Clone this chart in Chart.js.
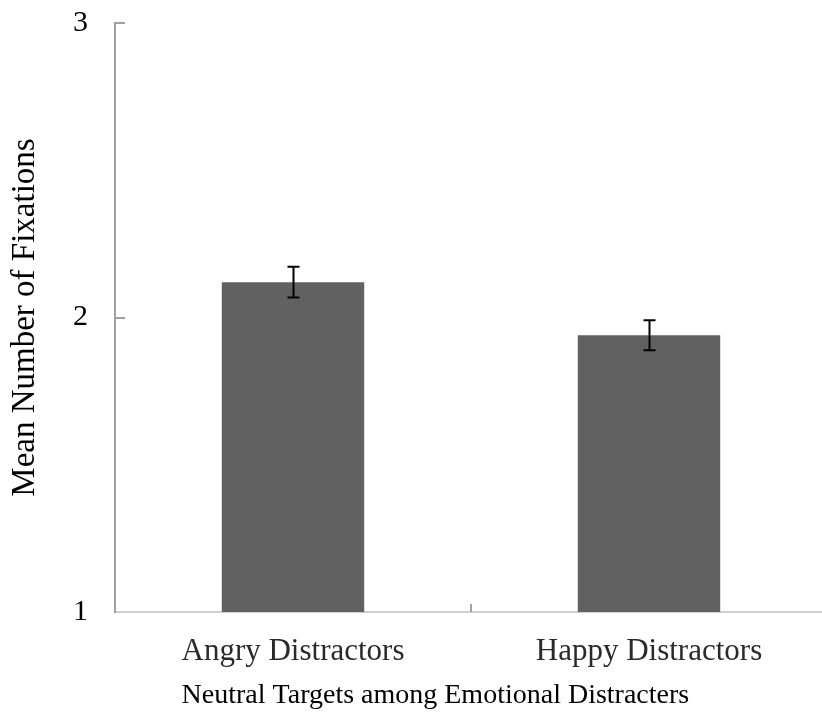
<!DOCTYPE html>
<html>
<head>
<meta charset="utf-8">
<script src="https://cdn.jsdelivr.net/npm/chart.js@4"></script>
<style>
  html, body { margin: 0; padding: 0; background: #fff; overflow: hidden; }
  canvas { display: block; }
</style>
</head>
<body>
<canvas id="chart" width="830" height="718" style="width:830px;height:718px"></canvas>
<script>
// Mean fixations per condition, with error margins
const categories = ['Angry Distractors', 'Happy Distractors'];
const meanFixations = [2.12, 1.94];
const errorMargins = [0.052, 0.051];
const yTicks = [1, 2, 3];
const yTitle = 'Mean Number of Fixations';
const xTitle = 'Neutral Targets among Emotional Distracters';

const SERIF = '"Liberation Serif", "Times New Roman", serif';

// Error bars drawn from the data arrays through the value scale
const errorBars = {
  id: 'errorBars',
  afterDatasetsDraw(chart) {
    const { ctx, scales: { y } } = chart;
    const meta = chart.getDatasetMeta(0);
    ctx.save();
    ctx.strokeStyle = '#000';
    ctx.lineWidth = 2;
    meta.data.forEach((bar, i) => {
      const top = y.getPixelForValue(meanFixations[i] + errorMargins[i]);
      const bot = y.getPixelForValue(meanFixations[i] - errorMargins[i]);
      const x = Math.round(bar.x) + 0.5;
      ctx.beginPath();
      ctx.moveTo(x, top); ctx.lineTo(x, bot);
      ctx.moveTo(x - 6, top); ctx.lineTo(x + 6, top);
      ctx.moveTo(x - 6, bot); ctx.lineTo(x + 6, bot);
      ctx.stroke();
    });
    ctx.restore();
  }
};

// Inward tick marks on both axes, plus the x-axis caption
const axisMarks = {
  id: 'axisMarks',
  afterDraw(chart) {
    const { ctx, chartArea, scales: { x, y } } = chart;
    ctx.save();
    ctx.strokeStyle = '#a0a0a0';
    ctx.lineWidth = 2;
    ctx.beginPath();
    yTicks.slice(1).forEach(v => {
      const py = Math.round(y.getPixelForValue(v));
      ctx.moveTo(chartArea.left, py);
      ctx.lineTo(chartArea.left + 10, py);
    });
    const mid = Math.round(x.getPixelForValue(0.5));
    ctx.moveTo(mid, chartArea.bottom);
    ctx.lineTo(mid, chartArea.bottom - 8);
    ctx.stroke();

    ctx.fillStyle = '#000';
    ctx.font = '28px ' + SERIF;
    ctx.textAlign = 'center';
    ctx.textBaseline = 'alphabetic';
    ctx.fillText(xTitle, chartArea.left + chartArea.width * 0.45, chart.height - 15);
    ctx.restore();
  }
};

new Chart(document.getElementById('chart'), {
  type: 'bar',
  data: {
    labels: categories,
    datasets: [{
      data: meanFixations,
      backgroundColor: '#616161',
      borderWidth: 0,
      barPercentage: 0.4,
      categoryPercentage: 1
    }]
  },
  options: {
    responsive: false,
    animation: false,
    layout: { autoPadding: false, padding: { left: 0, right: 3, top: 23, bottom: 0 } },
    plugins: {
      legend: { display: false },
      tooltip: { enabled: false },
      title: { display: false }
    },
    scales: {
      x: {
        grid: { display: false, drawTicks: false },
        border: { display: true, color: '#cfcfcf', width: 2 },
        ticks: {
          font: { family: SERIF, size: 31 },
          color: '#2a2a2a',
          padding: 21
        },
        afterFit(s) { s.height = 106; s.paddingLeft = 0; s.paddingRight = 0; }
      },
      y: {
        min: 1,
        max: 3,
        grid: { display: false, drawTicks: false },
        border: { display: true, color: '#a0a0a0', width: 2 },
        afterBuildTicks(s) { s.ticks = yTicks.map(v => ({ value: v })); },
        ticks: {
          font: { family: SERIF, size: 30 },
          color: '#000',
          padding: 27
        },
        title: {
          display: true,
          text: yTitle,
          font: { family: SERIF, size: 33 },
          color: '#000',
          padding: { top: 6, bottom: 0 }
        },
        afterFit(s) { s.width = 115; s.paddingTop = 0; s.paddingBottom = 0; }
      }
    }
  },
  plugins: [errorBars, axisMarks]
});
</script>
</body>
</html>
